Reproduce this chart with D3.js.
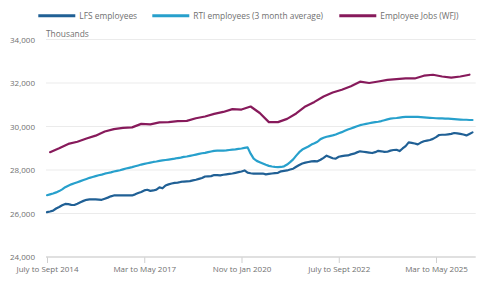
<!DOCTYPE html>
<html>
<head>
<meta charset="utf-8">
<script src="https://cdn.jsdelivr.net/npm/d3@7"></script>
<style>
  html, body { margin: 0; padding: 0; background: #fff; }
  svg { display: block; font-family: "Open Sans", sans-serif; }
</style>
</head>
<body>
<svg id="chart" width="500" height="292"></svg>
<script>
// ---- Data ----
const monthNames = ["Jan","Feb","Mar","Apr","May","June","July","Aug","Sept","Oct","Nov","Dec"];
const startMonth = 6, startYear = 2014, nPeriods = 141; // July to Sept 2014 onward (rolling 3 months)
const categories = d3.range(nPeriods).map(i => {
  const m0 = startMonth + i, m2 = m0 + 2;
  return monthNames[m0 % 12] + " to " + monthNames[m2 % 12] + " " + (startYear + Math.floor(m2 / 12));
});
const tickLabels = ["July to Sept 2014", "Mar to May 2017", "Nov to Jan 2020", "July to Sept 2022", "Mar to May 2025"];
const yTicks = [24000, 26000, 28000, 30000, 32000, 34000];

const lfsEmployees = [
  26060,26090,26130,26230,26300,26380,26440,26430,26400,26390,
  26450,26520,26580,26630,26650,26650,26650,26640,26630,26680,
  26730,26790,26830,26830,26830,26830,26830,26830,26830,26880,
  26940,26990,27060,27090,27040,27060,27100,27200,27160,27290,
  27340,27380,27410,27420,27450,27470,27480,27490,27520,27550,
  27590,27630,27700,27710,27720,27770,27760,27750,27780,27800,
  27820,27840,27870,27900,27930,27980,27880,27850,27830,27830,
  27830,27840,27800,27820,27840,27860,27870,27940,27960,27980,
  28020,28060,28150,28230,28300,28340,28370,28400,28410,28400,
  28470,28560,28660,28600,28540,28520,28610,28640,28660,28670,
  28720,28750,28810,28860,28840,28820,28800,28780,28820,28880,
  28860,28830,28840,28890,28920,28930,28870,28990,29100,29270,
  29250,29220,29180,29260,29320,29350,29380,29430,29510,29610,
  29620,29620,29640,29660,29700,29680,29660,29630,29590,29660,
  29730
];

const rtiEmployees = [
  26840,26880,26920,26970,27030,27110,27210,27280,27340,27390,
  27440,27490,27540,27590,27640,27680,27720,27760,27790,27830,
  27860,27890,27930,27960,27990,28030,28070,28100,28130,28170,
  28210,28250,28280,28310,28340,28370,28390,28420,28440,28460,
  28480,28500,28520,28550,28570,28600,28620,28650,28680,28710,
  28740,28770,28790,28820,28850,28880,28890,28890,28890,28900,
  28920,28940,28950,28970,28990,29020,29040,28750,28520,28420,
  28360,28300,28240,28190,28160,28140,28130,28140,28170,28250,
  28360,28490,28660,28820,28940,29010,29080,29170,29230,29300,
  29420,29480,29530,29560,29590,29630,29690,29740,29800,29860,
  29910,29960,30010,30060,30090,30120,30150,30180,30200,30220,
  30250,30290,30330,30360,30380,30390,30410,30430,30440,30440,
  30440,30440,30440,30430,30420,30410,30400,30390,30380,30370,
  30370,30360,30360,30350,30340,30330,30320,30310,30310,30300,
  30300
];

// Workforce jobs: quarterly (Sept 2014 ... ), plotted at the matching rolling period
const wfjEmployeeJobs = [
  28820,29000,29200,29300,29450,29580,29770,29880,29940,29960,
  30120,30100,30190,30200,30250,30260,30380,30460,30580,30670,
  30800,30780,30920,30620,30200,30200,30350,30600,30920,31130,
  31380,31560,31690,31850,32060,32000,32070,32140,32180,32210,
  32210,32335,32380,32300,32250,32300,32380
];

const seriesNames = ["LFS employees", "RTI employees (3 month average)", "Employee Jobs (WFJ)"];
const seriesColors = ["#206095", "#27a0cc", "#871a5b"];

// ---- Chart ----
(function () {
const svg = d3.select("#chart");
const plotLeft = 47, plotRight = 472.5, gridRight = 475.7, plotTop = 39.5, plotBottom = 257;

const x = d3.scalePoint().domain(categories).range([plotLeft, plotRight]).padding(0);
const y = d3.scaleLinear().domain([24000, 34000]).range([plotBottom, plotTop]);

// gridlines
svg.append("g").selectAll("line")
  .data(yTicks.filter(d => d !== 24000))
  .join("line")
  .attr("x1", plotLeft - 1).attr("x2", gridRight)
  .attr("y1", d => y(d)).attr("y2", d => y(d))
  .attr("stroke", "#ebebeb").attr("stroke-width", 1);

// y labels
const yAxis = d3.axisLeft(y).tickValues(yTicks).tickSize(0).tickPadding(0).tickFormat(d3.format(","));
const gy = svg.append("g").attr("transform", "translate(35,0)").call(yAxis);
gy.select(".domain").remove();
gy.selectAll("text").attr("fill", "#707070").attr("font-size", "8px").attr("font-family", "Open Sans");

// bottom axis
const xAxis = d3.axisBottom(x).tickValues(tickLabels).tickSize(6).tickPadding(3);
const gx = svg.append("g").attr("transform", `translate(0,${plotBottom})`).call(xAxis);
gx.select(".domain").remove();
gx.selectAll(".tick line").attr("stroke", "#cfcfcf");
gx.selectAll("text").attr("fill", "#707070").attr("font-size", "8px").attr("font-family", "Open Sans");
svg.append("line")
  .attr("x1", plotLeft - 1).attr("x2", gridRight)
  .attr("y1", y(24000)).attr("y2", y(24000))
  .attr("stroke", "#d6d6d6").attr("stroke-width", 1.5);

// Thousands label
svg.append("text").attr("x", 46).attr("y", 37.3)
  .attr("fill", "#707070").attr("font-size", "8.4px").text("Thousands");

// lines
const line = d3.line().x(d => x(d.cat)).y(d => y(d.v)).curve(d3.curveLinear);
const lfsData = lfsEmployees.map((v, i) => ({cat: categories[i], v}));
const rtiData = rtiEmployees.map((v, i) => ({cat: categories[i], v}));
const wfjData = wfjEmployeeJobs.map((v, k) => ({cat: categories[1 + 3 * k], v}));

[[wfjData, 2], [rtiData, 1], [lfsData, 0]].forEach(([data, s]) => {
  svg.append("path").datum(data)
    .attr("d", line)
    .attr("fill", "none")
    .attr("stroke", seriesColors[s])
    .attr("stroke-width", 2.2)
    .attr("stroke-linejoin", "round")
    .attr("stroke-linecap", "round");
});

// legend
const legendX = [38.3, 152.3, 339.3];
const lg = svg.append("g");
seriesNames.forEach((name, i) => {
  lg.append("line")
    .attr("x1", legendX[i]).attr("x2", legendX[i] + 37)
    .attr("y1", 15.7).attr("y2", 15.7)
    .attr("stroke", seriesColors[i]).attr("stroke-width", 3);
  lg.append("text")
    .attr("x", legendX[i] + 41).attr("y", 18.6)
    .attr("fill", "#707070").attr("font-size", "8.4px")
    .text(name);
});
})();
</script>
</body>
</html>
